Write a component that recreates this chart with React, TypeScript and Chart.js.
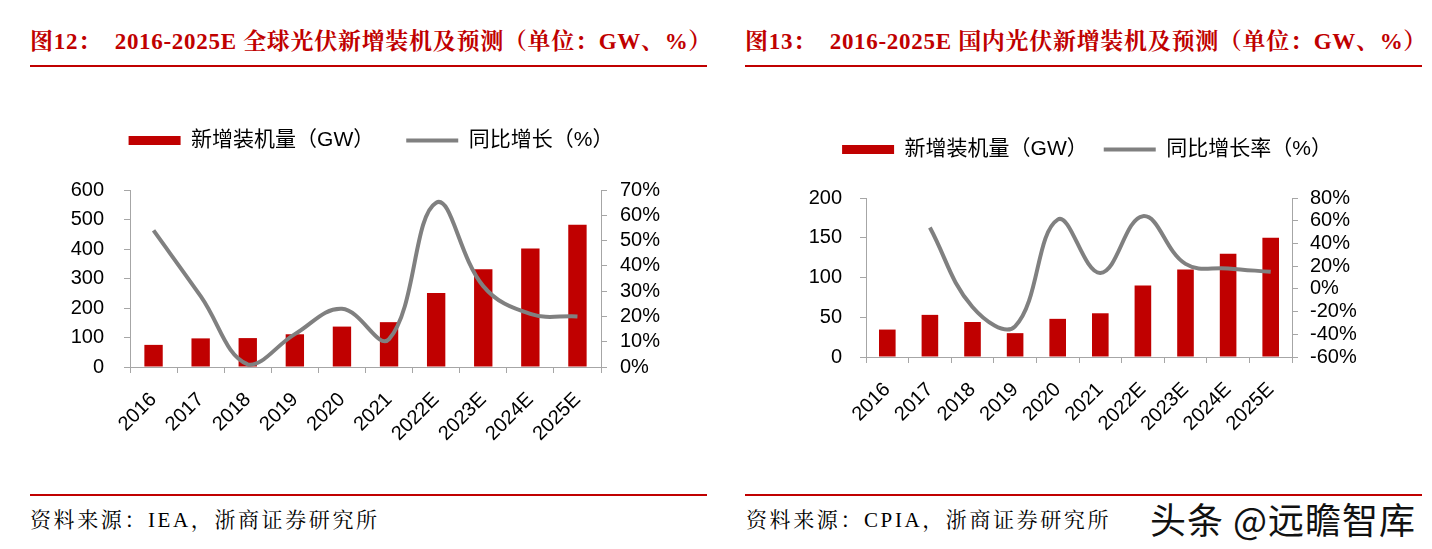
import React, { useEffect, useRef } from "react";
import { Chart, registerables } from "chart.js";

Chart.register(...registerables);

// ---------- data ----------
const categories = ["2016", "2017", "2018", "2019", "2020", "2021", "2022E", "2023E", "2024E", "2025E"];

const globalCapacity = [75, 97, 98, 111, 137, 152, 251, 331, 402, 482];
const globalGrowth = [54, 28, 1, 13, 23, 11, 65, 32, 21, 20];

const domesticCapacity = [34.5, 53, 44, 30, 48, 55, 90, 110, 130, 150];
const domesticGrowth = [null, 54, -16, -33, 61, 14, 64, 22, 18, 15];

const globalLeftRange = [0, 600, 100];
const globalRightRange = [0, 70, 10];
const domesticLeftRange = [0, 200, 50];
const domesticRightRange = [-60, 80, 20];

const title1 = "图12：  2016-2025E 全球光伏新增装机及预测（单位：GW、%）";
const title2 = "图13：  2016-2025E 国内光伏新增装机及预测（单位：GW、%）";
const source1 = "资料来源：IEA，浙商证券研究所";
const source2 = "资料来源：CPIA，浙商证券研究所";
const legend1 = ["新增装机量（GW）", "同比增长（%）"];
const legend2 = ["新增装机量（GW）", "同比增长率（%）"];
const watermark = "头条 @远瞻智库";

// ---------- styles ----------
const RED = "#C00000";
const GRAY = "#808080";
const AXIS = "#A6A6A6";
const FONT = "'Liberation Sans', Arial, 'Noto Sans CJK SC', sans-serif";

type Cfg = {
  capacity: number[];
  growth: (number | null)[];
  leftRange: number[];
  rightRange: number[];
  legend: string[];
  width: number;
  height: number;
  legendPad: number;
  padTop: number;
  padLeft: number;
  legendHeight: number;
  leftW: number;
  rightW: number;
  xH: number;
  leftPad: number;
  rightPad: number;
};

function DualChart(props: Cfg) {
  const ref = useRef<HTMLCanvasElement>(null);
  useEffect(() => {
    if (!ref.current) return;
    const p = props;
    const legendSpace = {
      id: "legendSpace",
      beforeInit(chart: any) {
        const lg = chart.legend;
        if (!lg) return;
        const orig = lg.fit;
        lg.fit = function () {
          orig.call(this);
          this.height = p.legendHeight;
        };
      },
    };
    const chart = new Chart(ref.current, {
      type: "bar",
      data: {
        labels: categories,
        datasets: [
          {
            type: "bar",
            label: p.legend[0],
            data: p.capacity,
            backgroundColor: RED,
            borderWidth: 0,
            barPercentage: 0.39,
            categoryPercentage: 1,
            yAxisID: "y",
            order: 2,
          } as any,
          {
            type: "line",
            label: p.legend[1],
            data: p.growth,
            borderColor: GRAY,
            backgroundColor: GRAY,
            borderWidth: 4,
            pointRadius: 0,
            tension: 0.4,
            yAxisID: "y1",
            order: 1,
          } as any,
        ],
      },
      options: {
        responsive: false,
        animation: false,
        devicePixelRatio: 1,
        layout: { padding: { top: p.padTop, left: p.padLeft, right: 0, bottom: 0 } },
        plugins: {
          tooltip: { enabled: false },
          legend: {
            display: true,
            position: "top",
            labels: {
              font: { family: FONT, size: 21 },
              color: "#000",
              padding: p.legendPad,
              usePointStyle: true,
              pointStyleWidth: 52,
              boxHeight: 9,
              sort: (a: any, b: any) => a.datasetIndex - b.datasetIndex,
              generateLabels: (c: any) => {
                const items = (Chart.defaults.plugins.legend.labels as any).generateLabels(c);
                return items.map((it: any) =>
                  it.datasetIndex === 0
                    ? { ...it, pointStyle: "rect", fillStyle: RED, lineWidth: 0 }
                    : { ...it, pointStyle: "line", strokeStyle: GRAY, lineWidth: 4 }
                );
              },
            },
          },
        },
        scales: {
          x: {
            type: "category",
            offset: true,
            grid: { offset: true, drawOnChartArea: false, color: AXIS, tickLength: 6, lineWidth: 1 },
            border: { color: AXIS, width: 1 },
            ticks: {
              autoSkip: false,
              maxRotation: 45,
              minRotation: 45,
              padding: 15,
              color: "#000",
              font: { family: FONT, size: 20 },
            },
            afterFit: (s: any) => {
              s.height = p.xH;
            },
          },
          y: {
            position: "left",
            min: p.leftRange[0],
            max: p.leftRange[1],
            grid: { drawOnChartArea: false, color: AXIS, tickLength: 6 },
            border: { color: AXIS, width: 1 },
            ticks: {
              autoSkip: false,
              stepSize: p.leftRange[2],
              padding: p.leftPad,
              color: "#000",
              font: { family: FONT, size: 20 },
            },
            afterFit: (s: any) => {
              s.width = p.leftW;
            },
          },
          y1: {
            position: "right",
            min: p.rightRange[0],
            max: p.rightRange[1],
            grid: { drawOnChartArea: false, color: AXIS, tickLength: 6 },
            border: { color: AXIS, width: 1 },
            ticks: {
              autoSkip: false,
              stepSize: p.rightRange[2],
              padding: p.rightPad,
              color: "#000",
              font: { family: FONT, size: 20 },
              callback: (v: any) => v + "%",
            },
            afterFit: (s: any) => {
              s.width = p.rightW;
            },
          },
        },
      } as any,
      plugins: [legendSpace],
    });
    return () => chart.destroy();
  }, []);
  return <canvas ref={ref} width={props.width} height={props.height} style={{ width: props.width, height: props.height, display: "block" }} />;
}

const titleStyle: React.CSSProperties = {
  position: "absolute",
  fontFamily: "'Liberation Serif', 'Noto Serif CJK SC', 'Noto Sans CJK SC', serif",
  fontWeight: "bold",
  fontSize: 23,
  lineHeight: "28px",
  letterSpacing: 0.7,
  color: RED,
  whiteSpace: "pre",
};

const sourceStyle: React.CSSProperties = {
  position: "absolute",
  fontFamily: "'Liberation Serif', 'Noto Serif CJK SC', 'Noto Sans CJK SC', serif",
  fontSize: 21,
  lineHeight: "26px",
  color: "#000",
  whiteSpace: "pre",
  letterSpacing: 2.6,
};

const rule = (left: number, top: number, width: number): React.CSSProperties => ({
  position: "absolute",
  left,
  top,
  width,
  height: 2,
  background: RED,
});

export default function App() {
  return (
    <div style={{ position: "fixed", left: 0, top: 0, width: 1432, height: 549, background: "#fff", overflow: "hidden" }}>
      <div style={{ ...titleStyle, left: 30, top: 28 }}>{title1}</div>
      <div style={{ ...titleStyle, left: 745, top: 28 }}>{title2}</div>
      <div style={rule(30, 65, 677)} />
      <div style={rule(745, 65, 677)} />

      <div style={{ position: "absolute", left: 20, top: 84 }}>
        <DualChart
          capacity={globalCapacity}
          growth={globalGrowth}
          leftRange={globalLeftRange}
          rightRange={globalRightRange}
          legend={legend1}
          width={690}
          height={370}
          legendPad={32}
          padTop={14}
          padLeft={12}
          legendHeight={92}
          leftW={98}
          rightW={109}
          xH={87}
          leftPad={20}
          rightPad={13}
        />
      </div>
      <div style={{ position: "absolute", left: 736, top: 107 }}>
        <DualChart
          capacity={domesticCapacity}
          growth={domesticGrowth}
          leftRange={domesticLeftRange}
          rightRange={domesticRightRange}
          legend={legend2}
          width={690}
          height={350}
          legendPad={16}
          padTop={16}
          padLeft={12}
          legendHeight={75}
          leftW={118}
          rightW={134}
          xH={100}
          leftPad={18}
          rightPad={12}
        />
      </div>

      <div style={rule(30, 494, 677)} />
      <div style={rule(745, 494, 677)} />
      <div style={{ ...sourceStyle, left: 30, top: 507 }}>{source1}</div>
      <div style={{ ...sourceStyle, left: 746, top: 507 }}>{source2}</div>
      <div
        style={{
          position: "absolute",
          left: 1150,
          top: 496,
          fontFamily: "'Noto Sans CJK SC', sans-serif",
          fontSize: 36,
          lineHeight: "44px",
          letterSpacing: 1,
          color: "#111",
          whiteSpace: "pre",
          textShadow: "0 0 2px #fff, 0 0 2px #fff",
        }}
      >
        {watermark}
      </div>
    </div>
  );
}
